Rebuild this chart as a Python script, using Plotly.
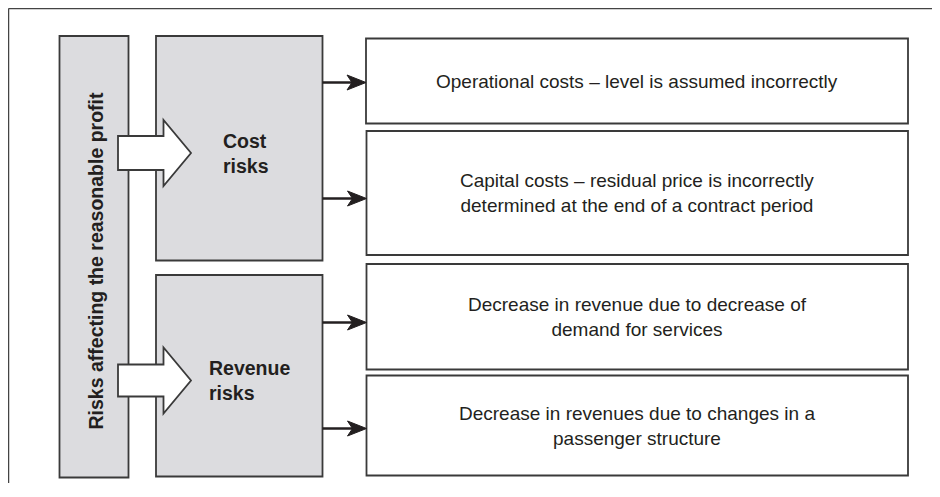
import plotly.graph_objects as go

# ---- content ----
root_label = "Risks affecting the reasonable profit"
group_labels = ["Cost<br>risks", "Revenue<br>risks"]
group_items = [
    ["Operational costs – level is assumed incorrectly",
     "Capital costs – residual price is incorrectly<br>determined at the end of a contract period"],
    ["Decrease in revenue due to decrease of<br>demand for services",
     "Decrease in revenues due to changes in a<br>passenger structure"],
]

# ---- geometry (page pixel space) ----
W, H = 940, 497
PAD = 8      # default page body margin around the plot
TRIM = 6     # keep the page from overflowing the window vertically
XR = [PAD, W - PAD]
YR = [H - PAD - TRIM, PAD]
root_box = (59.5, 36, 128.5, 477.5)
group_boxes = [(156, 36, 322.5, 260.5), (156, 275, 322.5, 476.5)]
group_text_x = [221, 207]
item_boxes = [
    [(366, 38.5, 908, 123.5), (366.5, 131, 908, 255)],
    [(366.5, 264, 908, 369.5), (366.5, 375.5, 908, 475.5)],
]
item_arrow_y = [[82.5, 198.5], [322.5, 428.5]]
big_arrow_y = [(136, 170, 120, 186, 153), (364.5, 396.5, 347.5, 413.5, 380.5)]

GRAY = "#dcdcdf"
EDGE = "#3a3a3a"
INK = "#231f20"
FONT = "Arial, Liberation Sans, sans-serif"

shapes = []
annotations = []

# outer frame (cropped on right/bottom)
shapes.append(dict(type="line", x0=8.5, y0=8.5, x1=XR[1], y1=8.5, line=dict(color="#444", width=1.5)))
shapes.append(dict(type="line", x0=8.5, y0=8.5, x1=8.5, y1=YR[0], line=dict(color="#444", width=1.5)))

def rect(b, fill):
    return dict(type="rect", x0=b[0], y0=b[1], x1=b[2], y1=b[3],
                fillcolor=fill, line=dict(color=EDGE, width=1.8), layer="above")

shapes.append(rect(root_box, GRAY))
annotations.append(dict(x=(root_box[0] + root_box[2]) / 2 + 1.5, y=261, text="<b>" + root_label + "</b>",
                        textangle=-90, showarrow=False,
                        font=dict(family=FONT, size=19.5, color=INK)))

for gi, gb in enumerate(group_boxes):
    shapes.append(rect(gb, GRAY))
    annotations.append(dict(x=group_text_x[gi], y=big_arrow_y[gi][4], text="<b>" + group_labels[gi] + "</b>",
                            xanchor="left", align="left", showarrow=False,
                            font=dict(family=FONT, size=19.5, color=INK)))
    for ii, ib in enumerate(item_boxes[gi]):
        shapes.append(rect(ib, "white"))
        annotations.append(dict(x=(ib[0] + ib[2]) / 2, y=(ib[1] + ib[3]) / 2, text=group_items[gi][ii],
                                showarrow=False, align="center",
                                font=dict(family=FONT, size=19, color=INK)))
        ay = item_arrow_y[gi][ii]
        shapes.append(dict(type="line", x0=gb[2], y0=ay, x1=ib[0] - 12, y1=ay,
                           line=dict(color=INK, width=2.5), layer="above"))
        shapes.append(dict(type="path",
                           path=f"M {ib[0]-19},{ay-7.5} L {ib[0]},{ay} L {ib[0]-19},{ay+7.5} L {ib[0]-14},{ay} Z",
                           fillcolor=INK, line=dict(color=INK, width=1), layer="above"))
    # hollow block arrow
    s0, s1, h0, h1, tip = big_arrow_y[gi]
    shapes.append(dict(type="path",
                       path=(f"M 118,{s0} L 163.5,{s0} L 163.5,{h0} L 191,{tip} L 163.5,{h1} "
                             f"L 163.5,{s1} L 118,{s1} Z"),
                       fillcolor="white", line=dict(color=EDGE, width=1.8), layer="above"))

fig = go.Figure()
fig.update_layout(
    width=XR[1] - XR[0], height=YR[0] - YR[1],
    margin=dict(l=0, r=0, t=0, b=0),
    paper_bgcolor="white", plot_bgcolor="white",
    xaxis=dict(range=XR, visible=False, fixedrange=True, showline=False, zeroline=False, showgrid=False),
    yaxis=dict(range=YR, visible=False, fixedrange=True, showline=False, zeroline=False, showgrid=False),
    shapes=shapes, annotations=annotations, showlegend=False,
)
fig.write_html("out.html")
